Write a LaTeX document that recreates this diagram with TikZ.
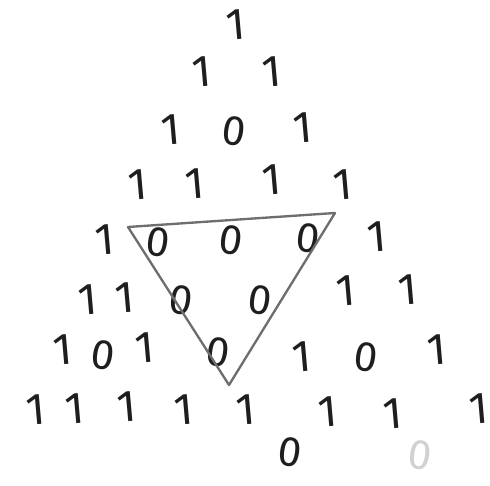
\documentclass[tikz,border=0pt]{standalone}
\usepackage{fontspec}
\setmainfont{Fira Sans}
\definecolor{penblack}{RGB}{30,30,30}
\definecolor{pengray}{RGB}{110,110,110}
\usetikzlibrary{positioning}

\begin{document}
\begin{tikzpicture}[x=0.03cm, y=-0.03cm,
  one/.style={inner sep=0pt, text=penblack, rotate=5, font=\fontsize{38}{38}\selectfont},
  zero/.style={inner sep=0pt, text=penblack, rotate=-8, font=\fontsize{36}{36}\selectfont},
  faint/.style={zero, text=black!18}
]
  \useasboundingbox (0,0) rectangle (490,486);

  %% Row 0
  \node[one] (r0a) at (236,25) {1};

  %% Row 1
  \node[one] (r1a) at (202,72) {1};
  \node[one] (r1b) at (272,72) {1};

  %% Row 2
  \node[one]  (r2a) at (171,130) {1};
  \node[zero] (r2b) at (234,131) {0};
  \node[one]  (r2c) at (303,128) {1};

  %% Row 3
  \node[one] (r3a) at (138,185) {1};
  \node[one] (r3b) at (195,184) {1};
  \node[one] (r3c) at (272,180) {1};
  \node[one] (r3d) at (343,185) {1};

  %% Row 4
  \node[one]  (r4a) at (105,240) {1};
  \node[zero] (r4b) at (158,242) {0};
  \node[zero] (r4c) at (231,240) {0};
  \node[zero] (r4d) at (308,238) {0};
  \node[one]  (r4e) at (377,237) {1};

  %% Row 5
  \node[one]  (r5a) at (88,300) {1};
  \node[one]  (r5b) at (125,298) {1};
  \node[zero] (r5c) at (181,300) {0};
  \node[zero] (r5d) at (260,300) {0};
  \node[one]  (r5e) at (346,291) {1};
  \node[one]  (r5f) at (408,290) {1};

  %% Row 6
  \node[one]  (r6a) at (63,350) {1};
  \node[zero] (r6b) at (103,355) {0};
  \node[one]  (r6c) at (145,348) {1};
  \node[zero] (r6d) at (218,352) {0};
  \node[one]  (r6e) at (302,357) {1};
  \node[zero] (r6f) at (366,357) {0};
  \node[one]  (r6g) at (437,350) {1};

  %% Row 7
  \node[one] (r7a) at (36,410) {1};
  \node[one] (r7b) at (75,409) {1};
  \node[one] (r7c) at (127,407) {1};
  \node[one] (r7d) at (184,410) {1};
  \node[one] (r7e) at (246,410) {1};
  \node[one] (r7f) at (328,412) {1};
  \node[one] (r7g) at (393,414) {1};
  \node[one] (r7h) at (479,409) {1};

  %% Row 8 (mostly rubbed out)
  \node[zero]  (r8a) at (290,452) {0};
  \node[faint] (r8b) at (420,455) {0};

  %% Triangle of zeros
  \coordinate (tl) at (128,227);
  \coordinate (tr) at (335,213);
  \coordinate (bt) at (229,385);
  \draw[pengray, line width=2pt, line join=round] (tl) -- (tr) -- (bt) -- cycle;
\end{tikzpicture}
\end{document}
